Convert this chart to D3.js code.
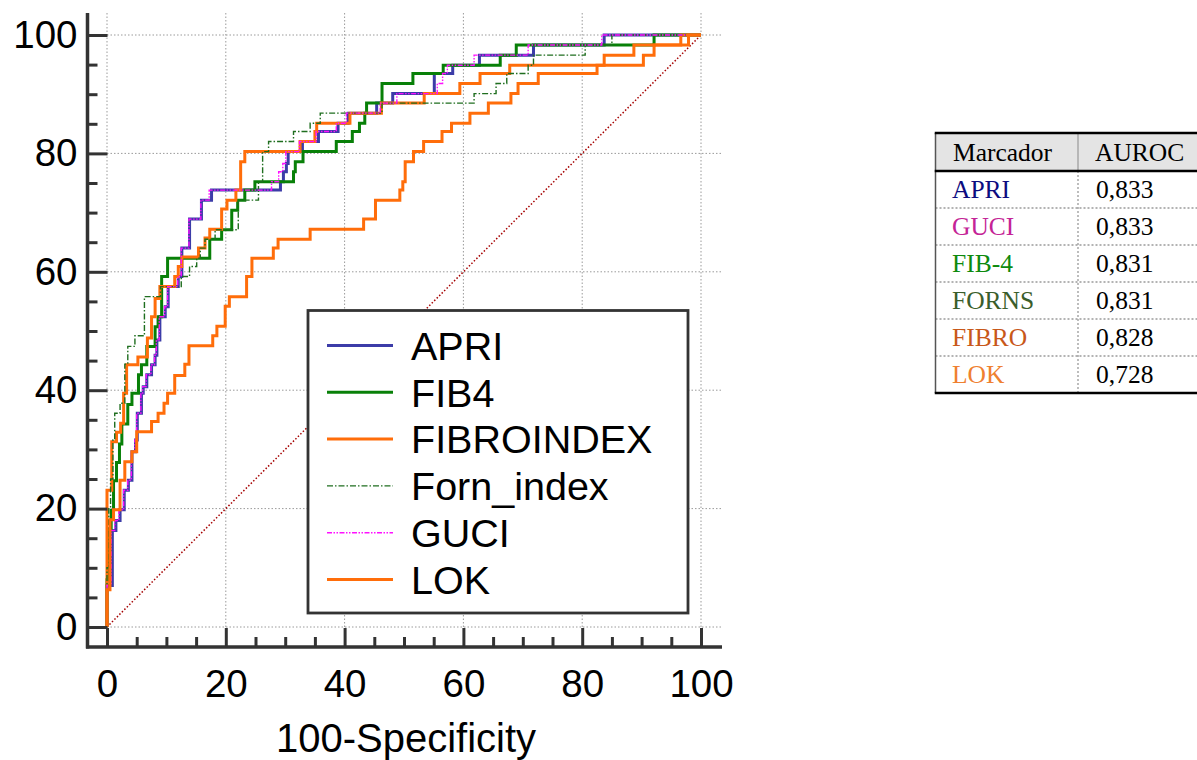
<!DOCTYPE html>
<html>
<head>
<meta charset="utf-8">
<script src="https://cdn.jsdelivr.net/npm/d3@7"></script>
<style>
  html, body { margin: 0; padding: 0; background: #fff; }
  svg { display: block; }
  .tick text { font-family: "Liberation Sans", Arial, sans-serif; }
</style>
</head>
<body>
<svg id="chart" width="1197" height="760"></svg>
<script>
// ROC curves: false-positive rate (100-Specificity) and sensitivity, in percent.
// Each point is where the curve rises; segments are drawn as horizontal-then-vertical steps.
const apriFpr = [0, 0, 0.9, 1.5, 2.2, 2.9, 3.6, 4.2, 4.8, 5.1, 5.8, 6.1, 6.7, 7.5, 8.1, 8.4, 8.9, 9.8, 10.3, 12.0, 12.6, 13.9, 15.9, 17.6, 29.2, 29.7, 30.2, 30.5, 32.9, 35.6, 38.9, 40.6, 45.4, 48.1, 55.1, 58.2, 62.7, 71.8, 83.7, 100];
const apriTpr = [0, 7.0, 16.3, 18.0, 19.8, 23.1, 24.8, 29.6, 31.6, 36.1, 39.5, 40.6, 42.6, 44.3, 45.9, 48.5, 52.4, 54.1, 57.5, 59.2, 64.0, 68.9, 72.1, 73.8, 75.2, 76.9, 78.3, 80.3, 82.0, 83.7, 85.1, 86.8, 88.5, 90.1, 93.5, 94.9, 96.6, 98.3, 100, 100];

const fib4Fpr = [0, 0, 0.3, 0.7, 1.1, 1.6, 2.1, 2.5, 3.5, 4.2, 5.3, 5.8, 6.7, 8.1, 8.6, 9.2, 10.2, 17.3, 19.3, 21.0, 22.0, 23.2, 24.9, 31.4, 31.7, 33.0, 38.6, 41.3, 42.5, 43.4, 43.7, 46.3, 51.5, 56.6, 66.2, 68.9, 92.1, 100];
const fib4Tpr = [0, 8.0, 16.4, 19.7, 24.7, 27.8, 30.9, 34.3, 37.6, 39.5, 42.6, 44.3, 47.4, 50.7, 52.4, 59.2, 62.3, 65.5, 67.1, 70.4, 72.1, 73.8, 75.2, 76.9, 78.6, 80.3, 82.0, 83.7, 85.1, 86.8, 88.5, 91.8, 93.5, 94.9, 96.6, 98.3, 100, 100];

const fibroFpr = [0, 0, 0.8, 1.6, 2.3, 2.8, 3.3, 5.2, 6.8, 7.5, 8.1, 8.9, 11.4, 12.0, 12.6, 15.4, 16.5, 17.3, 19.3, 20.2, 21.7, 22.5, 23.2, 32.5, 35.0, 35.3, 40.9, 46.2, 53.4, 59.4, 62.8, 67.8, 83.7, 88.7, 96.6, 100];
const fibroTpr = [0, 23.1, 31.3, 32.9, 34.4, 39.5, 44.3, 45.6, 48.8, 52.4, 55.5, 57.5, 59.2, 60.9, 62.5, 64.0, 65.7, 67.2, 70.6, 72.1, 73.8, 78.6, 80.3, 82.0, 83.7, 85.1, 86.8, 88.5, 90.1, 91.8, 93.5, 94.9, 96.6, 98.3, 100, 100];

const fornFpr = [0, 0, 0.3, 0.6, 1.0, 1.3, 2.2, 3.0, 3.5, 4.7, 6.3, 9.0, 12.5, 13.9, 15.1, 15.7, 16.5, 18.2, 22.1, 25.5, 26.2, 27.2, 31.4, 34.2, 35.9, 46.3, 61.8, 65.5, 67.3, 70.9, 71.8, 80.5, 85.0, 100];
const fornTpr = [0, 10.0, 20.0, 25.0, 31.6, 36.1, 37.8, 44.4, 47.4, 49.2, 55.8, 57.5, 59.2, 60.9, 62.3, 64.0, 65.5, 67.1, 72.1, 75.2, 80.3, 82.0, 83.7, 85.1, 86.8, 88.5, 90.1, 91.8, 93.5, 94.9, 96.6, 98.3, 100, 100];

const guciFpr = [0, 0, 0.7, 1.3, 2.0, 2.8, 3.5, 4.1, 4.7, 5.0, 5.7, 6.0, 6.6, 7.4, 8.0, 8.3, 8.8, 9.7, 10.2, 11.9, 12.5, 13.8, 15.8, 17.2, 27.7, 28.9, 29.6, 30.1, 32.4, 35.2, 38.6, 40.3, 46.0, 48.8, 55.6, 56.5, 57.3, 61.8, 70.9, 83.3, 100];
const guciTpr = [0, 7.0, 16.3, 18.0, 19.8, 23.1, 24.8, 29.6, 31.6, 36.1, 39.5, 40.6, 42.6, 44.3, 45.9, 48.5, 52.4, 54.1, 57.5, 59.2, 64.0, 68.9, 72.1, 73.8, 75.2, 76.9, 78.3, 80.3, 82.0, 83.7, 85.1, 86.8, 88.5, 90.1, 91.8, 93.5, 94.9, 96.6, 98.3, 100, 100];

const lokFpr = [0, 0, 0.5, 1.1, 2.2, 3.0, 4.2, 5.0, 7.5, 8.6, 9.6, 10.2, 11.4, 13.1, 13.8, 17.8, 18.5, 19.9, 20.6, 23.5, 24.4, 28.0, 28.8, 34.2, 43.2, 45.2, 49.3, 49.8, 50.2, 51.6, 53.3, 56.4, 58.0, 61.1, 64.2, 68.0, 69.2, 72.6, 82.5, 90.3, 92.1, 97.9, 100];
const lokTpr = [0, 6.3, 18.1, 19.8, 24.8, 27.9, 29.6, 33.0, 34.7, 36.1, 37.8, 39.5, 42.5, 44.4, 47.5, 49.2, 50.8, 54.2, 55.8, 59.2, 62.3, 64.0, 65.5, 67.2, 68.9, 72.1, 73.8, 75.2, 78.6, 80.3, 82.0, 83.7, 85.1, 86.8, 88.5, 90.1, 91.8, 93.5, 94.9, 96.6, 98.3, 100, 100];

// Axis ticks
const majorTicks = [0, 20, 40, 60, 80, 100];
const minorTicks = [5, 10, 15, 25, 30, 35, 45, 50, 55, 65, 70, 75, 85, 90, 95];

// Summary table
const tableHeader = ["Marcador", "AUROC"];
const markerNames = ["APRI", "GUCI", "FIB-4", "FORNS", "FIBRO", "LOK"];
const aurocValues = ["0,833", "0,833", "0,831", "0,831", "0,828", "0,728"];
const markerColors = ["#0c0c80", "#c42396", "#0d8a0d", "#3b5e2b", "#c8581a", "#ef8030"];

const series = [
  { name: "APRI",       fpr: apriFpr,  tpr: apriTpr,  color: "#3c3ca8", width: 3,   dash: null },
  { name: "FIB4",       fpr: fib4Fpr,  tpr: fib4Tpr,  color: "#088008", width: 3,   dash: null },
  { name: "FIBROINDEX", fpr: fibroFpr, tpr: fibroTpr, color: "#ff6d0a", width: 3,   dash: null },
  { name: "Forn_index", fpr: fornFpr,  tpr: fornTpr,  color: "#1f6e1f", width: 1.4, dash: "6,2,1.5,2" },
  { name: "GUCI",       fpr: guciFpr,  tpr: guciTpr,  color: "#ff10ff", width: 1.4, dash: "5,1.5,1.5,1.5,1.5,1.5" },
  { name: "LOK",        fpr: lokFpr,   tpr: lokTpr,   color: "#ff6d0a", width: 3,   dash: null }
];

const svg = d3.select("#chart");
const font = "'Liberation Sans', Arial, sans-serif";

const x = d3.scaleLinear().domain([0, 100]).range([107, 701]);
const y = d3.scaleLinear().domain([0, 100]).range([627, 35]);

const axisLeftX = 87.5, axisBottomY = 647, plotTop = 13, plotRight = 721;

// Dotted grid
const grid = svg.append("g").attr("stroke", "#9a9a9a").attr("stroke-width", 1).attr("stroke-dasharray", "1.5,2");
grid.selectAll("line.v").data(majorTicks).join("line")
  .attr("x1", d => x(d)).attr("x2", d => x(d)).attr("y1", plotTop).attr("y2", y(0));
grid.selectAll("line.h").data(majorTicks).join("line")
  .attr("x1", x(0)).attr("x2", plotRight).attr("y1", d => y(d)).attr("y2", d => y(d));

// Reference diagonal
svg.append("line")
  .attr("x1", x(0)).attr("y1", y(0)).attr("x2", x(100)).attr("y2", y(100))
  .attr("stroke", "#a50000").attr("stroke-width", 1.5).attr("stroke-dasharray", "1.5,2");

// Curves
const line = d3.line().x(d => x(d[0])).y(d => y(d[1])).curve(d3.curveStepAfter);
const curves = svg.append("g").attr("fill", "none");
series.forEach(s => {
  const pts = s.fpr.map((v, i) => [v, s.tpr[i]]);
  curves.append("path")
    .attr("d", line(pts))
    .attr("stroke", s.color)
    .attr("stroke-width", s.width)
    .attr("stroke-linejoin", "miter")
    .attr("stroke-dasharray", s.dash);
});

// Axes with inward ticks
const yMajor = svg.append("g").attr("transform", `translate(${axisLeftX},0)`)
  .call(d3.axisLeft(y).tickValues(majorTicks).tickSize(-20).tickPadding(10).tickFormat(d3.format("d")));
const yMinor = svg.append("g").attr("transform", `translate(${axisLeftX},0)`)
  .call(d3.axisLeft(y).tickValues(minorTicks).tickSize(-10).tickFormat(""));
const xMajor = svg.append("g").attr("transform", `translate(0,${axisBottomY})`)
  .call(d3.axisBottom(x).tickValues(majorTicks).tickSize(-19).tickPadding(23).tickFormat(d3.format("d")));
const xMinor = svg.append("g").attr("transform", `translate(0,${axisBottomY})`)
  .call(d3.axisBottom(x).tickValues(minorTicks).tickSize(-10).tickFormat(""));

[yMajor, yMinor, xMajor, xMinor].forEach(g => {
  g.select(".domain").remove();
  g.selectAll(".tick line").attr("stroke", "#333").attr("stroke-width", 3);
  g.selectAll(".tick text").attr("fill", "#000").style("font-size", "38.5px").style("font-family", font);
});

// Axis lines
svg.append("line").attr("x1", axisLeftX).attr("x2", axisLeftX).attr("y1", plotTop).attr("y2", axisBottomY + 1.5)
  .attr("stroke", "#333").attr("stroke-width", 3.5);
svg.append("line").attr("x1", axisLeftX - 1.5).attr("x2", plotRight + 1).attr("y1", axisBottomY).attr("y2", axisBottomY)
  .attr("stroke", "#333").attr("stroke-width", 3.5);

// Axis title
svg.append("text").attr("x", 406).attr("y", 752).attr("text-anchor", "middle")
  .style("font-family", font).style("font-size", "40px").attr("fill", "#000")
  .text("100-Specificity");

// Legend
const legend = svg.append("g");
legend.append("rect").attr("x", 308).attr("y", 310.5).attr("width", 380).attr("height", 302.5)
  .attr("fill", "#fff").attr("stroke", "#333").attr("stroke-width", 2.8);
const legendY = d3.scalePoint().domain(series.map(s => s.name)).range([345.5, 579.5]);
series.forEach(s => {
  const cy = legendY(s.name);
  legend.append("line").attr("x1", 327).attr("x2", 393).attr("y1", cy).attr("y2", cy)
    .attr("stroke", s.color).attr("stroke-width", s.width)
    .attr("stroke-dasharray", s.dash);
  legend.append("text").attr("x", 411).attr("y", cy).attr("dy", "0.36em")
    .style("font-family", font).style("font-size", "39.5px").attr("fill", "#000")
    .text(s.name);
});

// AUROC table
const tbl = svg.append("g").style("font-family", "'Liberation Serif', 'Times New Roman', serif");
const tLeft = 935.5, tDiv = 1078, tRight = 1199;
const rowY = d3.scaleBand().domain(d3.range(markerNames.length)).range([171, 393]);
const headTop = 133, headBottom = 171;

tbl.append("rect").attr("x", tLeft).attr("y", headTop).attr("width", tRight - tLeft).attr("height", headBottom - headTop)
  .attr("fill", "#e4e4e4");
// row separators (dotted)
tbl.selectAll("line.sep").data(d3.range(1, markerNames.length)).join("line")
  .attr("x1", tLeft).attr("x2", tRight)
  .attr("y1", d => rowY(d)).attr("y2", d => rowY(d))
  .attr("stroke", "#9a9a9a").attr("stroke-width", 1.3).attr("stroke-dasharray", "2,2");
// column divider
tbl.append("line").attr("x1", tDiv).attr("x2", tDiv).attr("y1", headTop).attr("y2", headBottom)
  .attr("stroke", "#a8a8a8").attr("stroke-width", 1.5);
tbl.append("line").attr("x1", tDiv).attr("x2", tDiv).attr("y1", headBottom).attr("y2", 393)
  .attr("stroke", "#9a9a9a").attr("stroke-width", 1.3).attr("stroke-dasharray", "2,2");
// outer borders
tbl.append("line").attr("x1", tLeft).attr("x2", tLeft).attr("y1", headTop).attr("y2", 393)
  .attr("stroke", "#555").attr("stroke-width", 1.5);
[headTop, headBottom, 393].forEach(yy => {
  tbl.append("line").attr("x1", tLeft - 0.75).attr("x2", tRight).attr("y1", yy).attr("y2", yy)
    .attr("stroke", "#000").attr("stroke-width", 2.6);
});

const cellFont = "25.5px";
tbl.append("text").attr("x", 953).attr("y", (headTop + headBottom) / 2).attr("dy", "0.34em")
  .style("font-size", cellFont).attr("fill", "#000").text(tableHeader[0]);
tbl.append("text").attr("x", 1095).attr("y", (headTop + headBottom) / 2).attr("dy", "0.34em")
  .style("font-size", cellFont).attr("fill", "#000").text(tableHeader[1]);

markerNames.forEach((m, i) => {
  const cy = rowY(i) + rowY.bandwidth() / 2;
  tbl.append("text").attr("x", 952).attr("y", cy).attr("dy", "0.34em")
    .style("font-size", cellFont).attr("fill", markerColors[i]).text(m);
  tbl.append("text").attr("x", 1096).attr("y", cy).attr("dy", "0.34em")
    .style("font-size", cellFont).attr("fill", "#000").text(aurocValues[i]);
});
</script>
</body>
</html>
